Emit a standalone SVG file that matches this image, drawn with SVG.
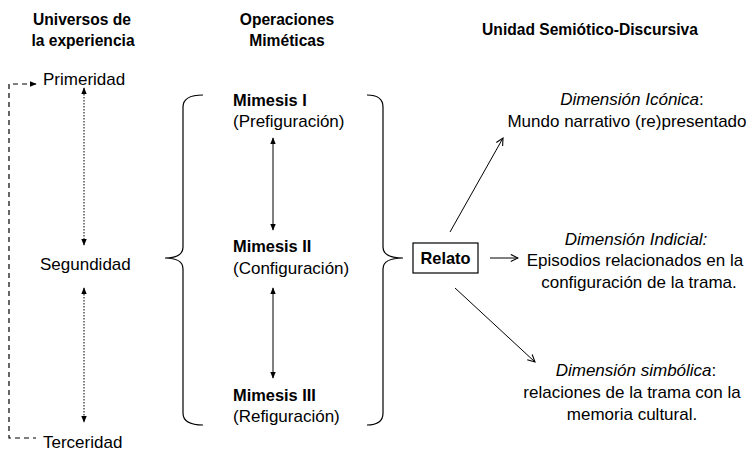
<svg xmlns="http://www.w3.org/2000/svg" width="750" height="454" viewBox="0 0 750 454">
<style>
text{font-family:"Liberation Sans",Arial,sans-serif;font-size:17px;fill:#000}
.t{font-weight:bold;font-size:15.6px}
.b{font-weight:bold;font-size:16.4px}
.i{font-style:italic}
.c{text-anchor:middle}
.ln{stroke:#000;stroke-width:1;fill:none}
.br{stroke:#000;stroke-width:1.2;fill:none}
.dot{stroke:#000;stroke-width:1;fill:none;stroke-dasharray:1.5 1.5}
.dash{stroke:#000;stroke-width:1.2;fill:none;stroke-dasharray:5 4}
</style>
<defs>
<marker id="ah" viewBox="0 0 10 10" refX="9" refY="5" markerWidth="7" markerHeight="7" orient="auto-start-reverse" markerUnits="userSpaceOnUse">
<path d="M0,1 L10,5 L0,9 Z" fill="#000"/>
</marker>
<marker id="oa" viewBox="0 0 10 10" refX="9" refY="5" markerWidth="9" markerHeight="9" orient="auto" markerUnits="userSpaceOnUse">
<path d="M1,1 L9,5 L1,9" fill="none" stroke="#000" stroke-width="1.2"/>
</marker>
</defs>
<g id="titles">
<text class="t c" x="82" y="25">Universos de</text>
<text class="t c" x="83" y="46">la experiencia</text>
<text class="t c" x="287" y="25">Operaciones</text>
<text class="t c" x="287" y="46">Miméticas</text>
<text class="t c" x="590" y="35">Unidad Semiótico-Discursiva</text>
</g>
<g id="primeridad"><text x="43" y="85">Primeridad</text></g>
<g id="segundidad"><text x="40" y="270">Segundidad</text></g>
<g id="terceridad"><text x="43" y="448">Terceridad</text></g>
<g id="mimesis1"><text class="b" x="233" y="106">Mimesis I</text><text x="233" y="127">(Prefiguración)</text></g>
<g id="mimesis2"><text class="b" x="233" y="252">Mimesis II</text><text x="233" y="274">(Configuración)</text></g>
<g id="mimesis3"><text class="b" x="233" y="401">Mimesis III</text><text x="233" y="422">(Refiguración)</text></g>
<g id="relato"><rect x="413" y="243" width="65" height="30" fill="#fff" stroke="#000" stroke-width="1.2"/><text class="b c" x="445.5" y="264">Relato</text></g>
<g id="iconica"><text class="c" x="632" y="105"><tspan class="i">Dimensión Icónica</tspan>:</text><text class="c" x="627" y="127">Mundo narrativo (re)presentado</text></g>
<g id="indicial"><text class="c i" x="636" y="245">Dimensión Indicial:</text><text class="c" x="635" y="266">Episodios relacionados en la</text><text class="c" x="639" y="288">configuración de la trama.</text></g>
<g id="simbolica"><text class="c" x="636" y="376"><tspan class="i">Dimensión simbólica</tspan>:</text><text class="c" x="632" y="398">relaciones de la trama con la</text><text class="c" x="632" y="420">memoria cultural.</text></g>
<g id="connectors">
<path class="dash" d="M36,84 H9 V438 H36" marker-start="url(#ah)"/>
<line class="dot" x1="84" y1="88" x2="84" y2="245" marker-start="url(#ah)" marker-end="url(#ah)"/>
<line class="dot" x1="84" y1="288" x2="84" y2="422" marker-start="url(#ah)" marker-end="url(#ah)"/>
<path class="br" d="M203,95 Q183,95 183,107 L183,247 Q183,258 165,258 Q183,258 183,269 L183,413 Q183,425 203,425"/>
<path class="br" d="M367,95 Q383,95 383,107 L383,247 Q383,258 403,258 Q383,258 383,269 L383,413 Q383,425 367,425"/>
<line class="ln" x1="273" y1="138" x2="273" y2="230" marker-start="url(#ah)" marker-end="url(#ah)"/>
<line class="ln" x1="273" y1="288" x2="273" y2="378" marker-start="url(#ah)" marker-end="url(#ah)"/>
<line class="ln" x1="450" y1="232" x2="503" y2="138" marker-end="url(#oa)"/>
<line class="ln" x1="490" y1="258" x2="518" y2="258" marker-end="url(#oa)"/>
<line class="ln" x1="455" y1="288" x2="535" y2="362" marker-end="url(#oa)"/>
</g>
</svg>
